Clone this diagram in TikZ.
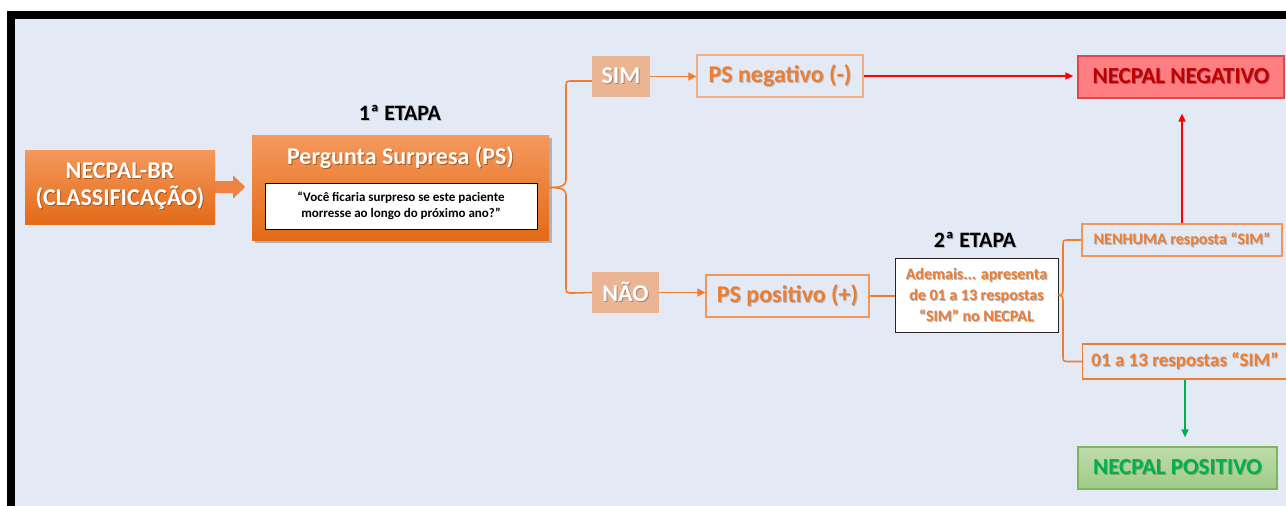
\documentclass[tikz,border=0pt]{standalone}
\usepackage{fontspec}
\setmainfont{Carlito}
\usetikzlibrary{shadows,calc,arrows.meta}

\definecolor{bg}{HTML}{E3E9F5}
\definecolor{acc}{HTML}{ED7D31}
\definecolor{orTop}{HTML}{F4995C}
\definecolor{orBot}{HTML}{E36A17}
\definecolor{blockarrow}{HTML}{EE8242}
\definecolor{tagfill}{HTML}{EBB493}
\definecolor{lightedge}{HTML}{F2AE82}
\definecolor{midedge}{HTML}{F0975C}
\definecolor{negfill}{HTML}{FF7E82}
\definecolor{negedge}{HTML}{E0474F}
\definecolor{negtext}{HTML}{C00000}
\definecolor{posTop}{HTML}{BEDCAB}
\definecolor{posBot}{HTML}{A0CA86}
\definecolor{posedge}{HTML}{7EB55E}
\definecolor{postext}{HTML}{00B050}
\definecolor{shGray}{HTML}{B3B7BF}
\definecolor{shDark}{HTML}{A5581F}
\definecolor{shTag}{HTML}{A88470}
\definecolor{shRed}{HTML}{B0505A}
\definecolor{shGreen}{HTML}{7BA46F}

% text with a small offset shadow behind it
\newcommand\shd[2]{\rlap{\kern1pt\raisebox{-1pt}{\textcolor{#1}{#2}}}#2}

\begin{document}
\begin{tikzpicture}[x=1pt,y=-1pt,
  bigfont/.style={font=\bfseries\fontsize{24}{27}\selectfont},
  orangebox/.style={top color=orTop, bottom color=orBot, draw=none, text=white, align=center, bigfont},
  stagelabel/.style={text=black, font=\bfseries\fontsize{22}{25}\selectfont},
  tagbox/.style={fill=tagfill, draw=none, text=white, bigfont},
  outbox/.style={draw=lightedge, line width=1.3pt, text=acc, bigfont},
  answerbox/.style={draw=midedge, line width=1.3pt, text=acc, font=\bfseries\fontsize{16}{19}\selectfont},
  flow/.style={acc, line width=1.6pt, -{Triangle[length=8pt,width=8pt]}},
  link/.style={acc, line width=1.6pt},
  bracelink/.style={acc, line width=1.6pt, line join=round},
  redflow/.style={red, line width=1.6pt, -{Triangle[length=8pt,width=7pt]}},
  greenflow/.style={postext, line width=1.6pt, -{Triangle[length=8pt,width=7pt]}}
]
\useasboundingbox (0,0) rectangle (1286,506);
% frame and background
\fill[white] (0,0) rectangle (1286,506);
\fill[black] (7,11) rectangle (1286,506);
\fill[bg] (15,19) rectangle (1286,506);

% stage 1
\node[orangebox, minimum width=190, minimum height=74] (necpal) at (120,187)
  {\shd{shDark}{NECPAL-BR}\\\shd{shDark}{(CLASSIFICAÇÃO)}};
\fill[blockarrow] ($(necpal.east)+(0,-6)$) -- ++(18,0) -- ++(0,-5.5) -- ++(12,11.5)
  -- ++(-12,11.5) -- ++(0,-5.5) -- ($(necpal.east)+(0,6)$) -- cycle;

\node[orangebox, minimum width=297, minimum height=105,
  drop shadow={shadow xshift=3pt, shadow yshift=-3pt, opacity=.35, fill=black!70}] (ps) at (400.5,187.5) {};
\node[text=white, bigfont] (pstitle) at (400.5,158) {\shd{shDark}{Pergunta Surpresa (PS)}};
\node[draw=black, fill=white, line width=1pt, minimum width=272, minimum height=46, align=center,
  font=\bfseries\fontsize{13}{15.5}\selectfont] (question) at (401,206)
  {“Você ficaria surpreso se este paciente\\morresse ao longo do próximo ano?”};
\node[stagelabel] (stage1) at (400,113) {\shd{shGray}{1ª ETAPA}};

% answers to the surprise question
\node[tagbox, minimum width=58, minimum height=41] (sim) at (621,76.5) {\shd{shTag}{SIM}};
\node[tagbox, minimum width=67, minimum height=41] (nao) at (625.5,292.5) {\shd{shTag}{NÃO}};
\node[outbox, minimum width=166, minimum height=42] (neg) at (780,76) {\shd{shGray}{PS negativo (-)}};
\node[outbox, draw=midedge, minimum width=163, minimum height=42] (pos) at (787.5,296) {\shd{shGray}{PS positivo (+)}};

\draw[bracelink] ($(sim.west)+(0,4.5)$) -- (573,81) .. controls (566,81) .. (566,88) -- (566,180)
  .. controls (566,186) and (561,187.5) .. (ps.east);
\draw[bracelink] (ps.east) .. controls (561,187.5) and (566,189) .. (566,195) -- (566,286)
  .. controls (566,293) .. (573,293) -- (nao.west);
\draw[flow] (sim.east) -- (sim.east -| neg.west);
\draw[flow] (nao.east) -- (nao.east -| pos.west);

% stage 2
\node[draw=black!85, fill=white, line width=1pt, minimum width=163, minimum height=74, align=center,
  text=acc, font=\bfseries\fontsize{16}{21}\selectfont] (ademais) at (976.5,295)
  {\shd{shGray}{Ademais... apresenta}\\\shd{shGray}{de 01 a 13 respostas}\\\shd{shGray}{“SIM” no NECPAL}};
\node[stagelabel] (stage2) at (975,240) {\shd{shGray}{2ª ETAPA}};
\draw[link] (pos.east) -- (pos.east -| ademais.west);

\node[answerbox, minimum width=200, minimum height=32] (nenhuma) at (1182,240) {\shd{shGray}{NENHUMA resposta “SIM”}};
\node[answerbox, draw=acc, minimum width=205, minimum height=35, font=\bfseries\fontsize{19}{22}\selectfont]
  (um13) at (1185,361.5) {\shd{shGray}{01 a 13 respostas “SIM”}};

\draw[bracelink] (nenhuma.west) -- (1069,240) .. controls (1063,240) .. (1063,246) -- (1063,290)
  .. controls (1063,295) and (1061,295) .. (ademais.east);
\draw[bracelink] (ademais.east) .. controls (1061,295) and (1063,296) .. (1063,301) -- (1063,355)
  .. controls (1063,361.5) .. (1069,361.5) -- (um13.west);

% outcomes
\node[fill=negfill, draw=negedge, line width=1.2pt, minimum width=206, minimum height=42,
  text=negtext, font=\bfseries\fontsize{23}{26}\selectfont] (nneg) at (1181,77) {\shd{shRed}{NECPAL NEGATIVO}};
\node[top color=posTop, bottom color=posBot, draw=posedge, line width=1.2pt, minimum width=199, minimum height=42,
  text=postext, font=\bfseries\fontsize{23}{26}\selectfont] (npos) at (1177.5,468) {\shd{shGreen}{NECPAL POSITIVO}};

\draw[redflow, shorten >=4pt] (neg.east) -- (neg.east -| nneg.west);
\draw[redflow, shorten >=15pt] (nenhuma.north) -- (nenhuma.north |- nneg.south);
\draw[greenflow, shorten >=9pt] (um13.south) -- (um13.south |- npos.north);
\end{tikzpicture}
\end{document}
